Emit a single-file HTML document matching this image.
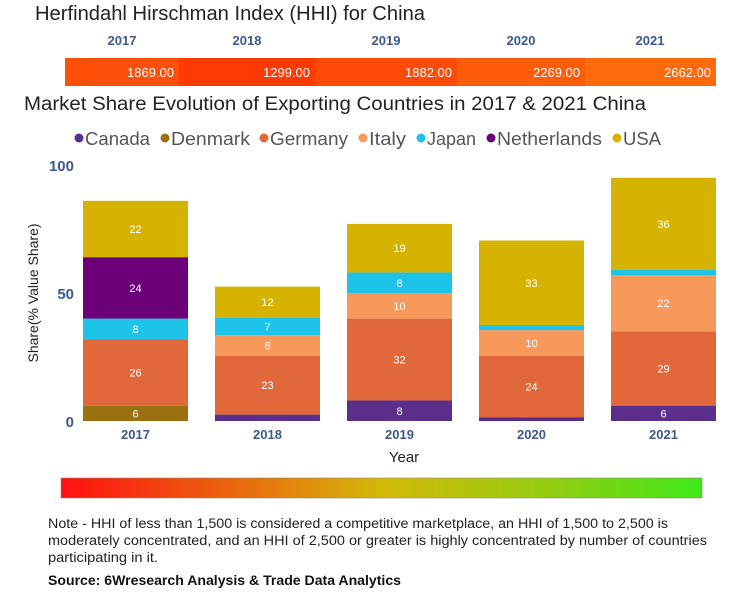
<!DOCTYPE html>
<html><head><meta charset="utf-8"><style>
body{margin:0;background:#fff;width:734px;height:600px;overflow:hidden}
svg{display:block;font-family:"Liberation Sans",sans-serif}
</style></head><body>
<svg width="734" height="600" viewBox="0 0 734 600">
<defs><linearGradient id="gr" x1="0" x2="1" y1="0" y2="0">
<stop offset="0" stop-color="#ff1010"/><stop offset="0.3" stop-color="#e8700f"/><stop offset="0.5" stop-color="#d4b80a"/><stop offset="0.75" stop-color="#98cc10"/><stop offset="1" stop-color="#3ee81a"/></linearGradient></defs>
<text x="35" y="20" font-size="20" fill="#222" textLength="390" lengthAdjust="spacingAndGlyphs">Herfindahl Hirschman Index (HHI) for China</text>
<g id="hhi"></g>
<text x="24" y="110" font-size="19" fill="#222" textLength="622" lengthAdjust="spacingAndGlyphs">Market Share Evolution of Exporting Countries in 2017 &amp; 2021 China</text>
<g id="legend"></g>
<g id="plot"></g>
<text x="404" y="462" font-size="15" fill="#222" text-anchor="middle">Year</text>
<text transform="translate(38,293) rotate(-90)" font-size="14" fill="#222" text-anchor="middle">Share(% Value Share)</text>
<rect x="61" y="478" width="641" height="20" fill="url(#gr)" stroke="#8a8a6a" stroke-width="0.6"/>
<g font-size="13.5" fill="#222">
<text x="48" y="528" textLength="620" lengthAdjust="spacingAndGlyphs">Note - HHI of less than 1,500 is considered a competitive marketplace, an HHI of 1,500 to 2,500 is</text>
<text x="48" y="545" textLength="659" lengthAdjust="spacingAndGlyphs">moderately concentrated, and an HHI of 2,500 or greater is highly concentrated by number of countries</text>
<text x="48" y="562" textLength="110" lengthAdjust="spacingAndGlyphs">participating in it.</text>
</g>
<text x="48" y="585" font-size="13.5" font-weight="bold" fill="#111" textLength="353" lengthAdjust="spacingAndGlyphs">Source: 6Wresearch Analysis &amp; Trade Data Analytics</text>
</svg>
<script>
const years=["2017","2018","2019","2020","2021"];
const hhiValues=[1869,1299,1882,2269,2662];
const series=["Canada","Denmark","Germany","Italy","Japan","Netherlands","USA"];
const canada=[0,2.5,8,1.5,6];
const denmark=[6,0,0,0,0];
const germany=[26,23,32,24,29];
const italy=[0,8,10,10,22];
const japan=[8,7,8,2,2];
const netherlands=[24,0,0,0,0];
const usa=[22,12,19,33,36];
const yTicks=[0,50,100];
const colors=["#5b2e8c","#9a7010","#e0683a","#f7995a","#1ec3ea","#6c0078","#d6b300"];
const NS="http://www.w3.org/2000/svg";
function mk(t,a,p,txt){const e=document.createElementNS(NS,t);for(const k in a)e.setAttribute(k,a[k]);if(txt!==undefined)e.textContent=txt;p.appendChild(e);return e;}
const hhi=document.getElementById('hhi');
const hx=[65,179,315,457,585,716];
const hcol=["#ff4f0a","#ff3a05","#ff4a08","#ff5c0a","#ff6b0c"];
const hlab=[122,247,386,521,650];
hhiValues.forEach((v,i)=>{
 const r=mk('rect',{x:hx[i],y:58,width:hx[i+1]-hx[i],height:28,fill:hcol[i]},hhi);
 
 
 const t=mk('text',{x:hx[i+1]-5,y:77,'font-size':13,fill:'#fff','text-anchor':'end'},hhi,v.toFixed(2));
 
 
 const y=mk('text',{x:hlab[i],y:45,'font-size':13,'font-weight':'bold',fill:'#3d5a8a','text-anchor':'middle'},hhi,years[i]);
 
 
});
const lg=document.getElementById('legend');
const lx=[79,165,264,363,421,491,617];
const lend=[150,250,348,406,476,602,661];
series.forEach((s,i)=>{
 const g=mk('g',{},lg);
 
 
 mk('circle',{cx:lx[i],cy:138,r:4.5,fill:colors[i]},g);
 mk('text',{x:lx[i]+6,y:145,'font-size':18,fill:'#555',textLength:lend[i]-lx[i]-6,lengthAdjust:'spacingAndGlyphs'},g,s);
});
const plot=document.getElementById('plot');
const y0=421,pxPer=2.56;
const Y=v=>y0-v*pxPer;
const X=i=>83+i*132;
const bw=105;
yTicks.forEach(t=>{
 const e=mk('text',{x:74,y:Y(t)+6,'font-size':15,'font-weight':'bold',fill:'#3d5a8a','text-anchor':'end'},plot,t);
 
 
});
const data=[canada,denmark,germany,italy,japan,netherlands,usa];
years.forEach((yr,i)=>{
 let acc=0;
 data.forEach((arr,s)=>{
  const v=arr[i]; if(!v)return;
  const r=mk('rect',{x:X(i),y:Y(acc+v),width:bw,height:v*pxPer,fill:colors[s]},plot);
  
  
  if(v>=5){
   const t=mk('text',{x:X(i)+bw/2,y:Y(acc+v/2)+4,'font-size':11,fill:'#fff','text-anchor':'middle'},plot,Math.round(v));
   
   
  }
  acc+=v;
 });
 const xl=mk('text',{x:X(i)+bw/2,y:439,'font-size':13,'font-weight':'bold',fill:'#3d5a8a','text-anchor':'middle'},plot,yr);
 
 
});
</script>
</body></html>
